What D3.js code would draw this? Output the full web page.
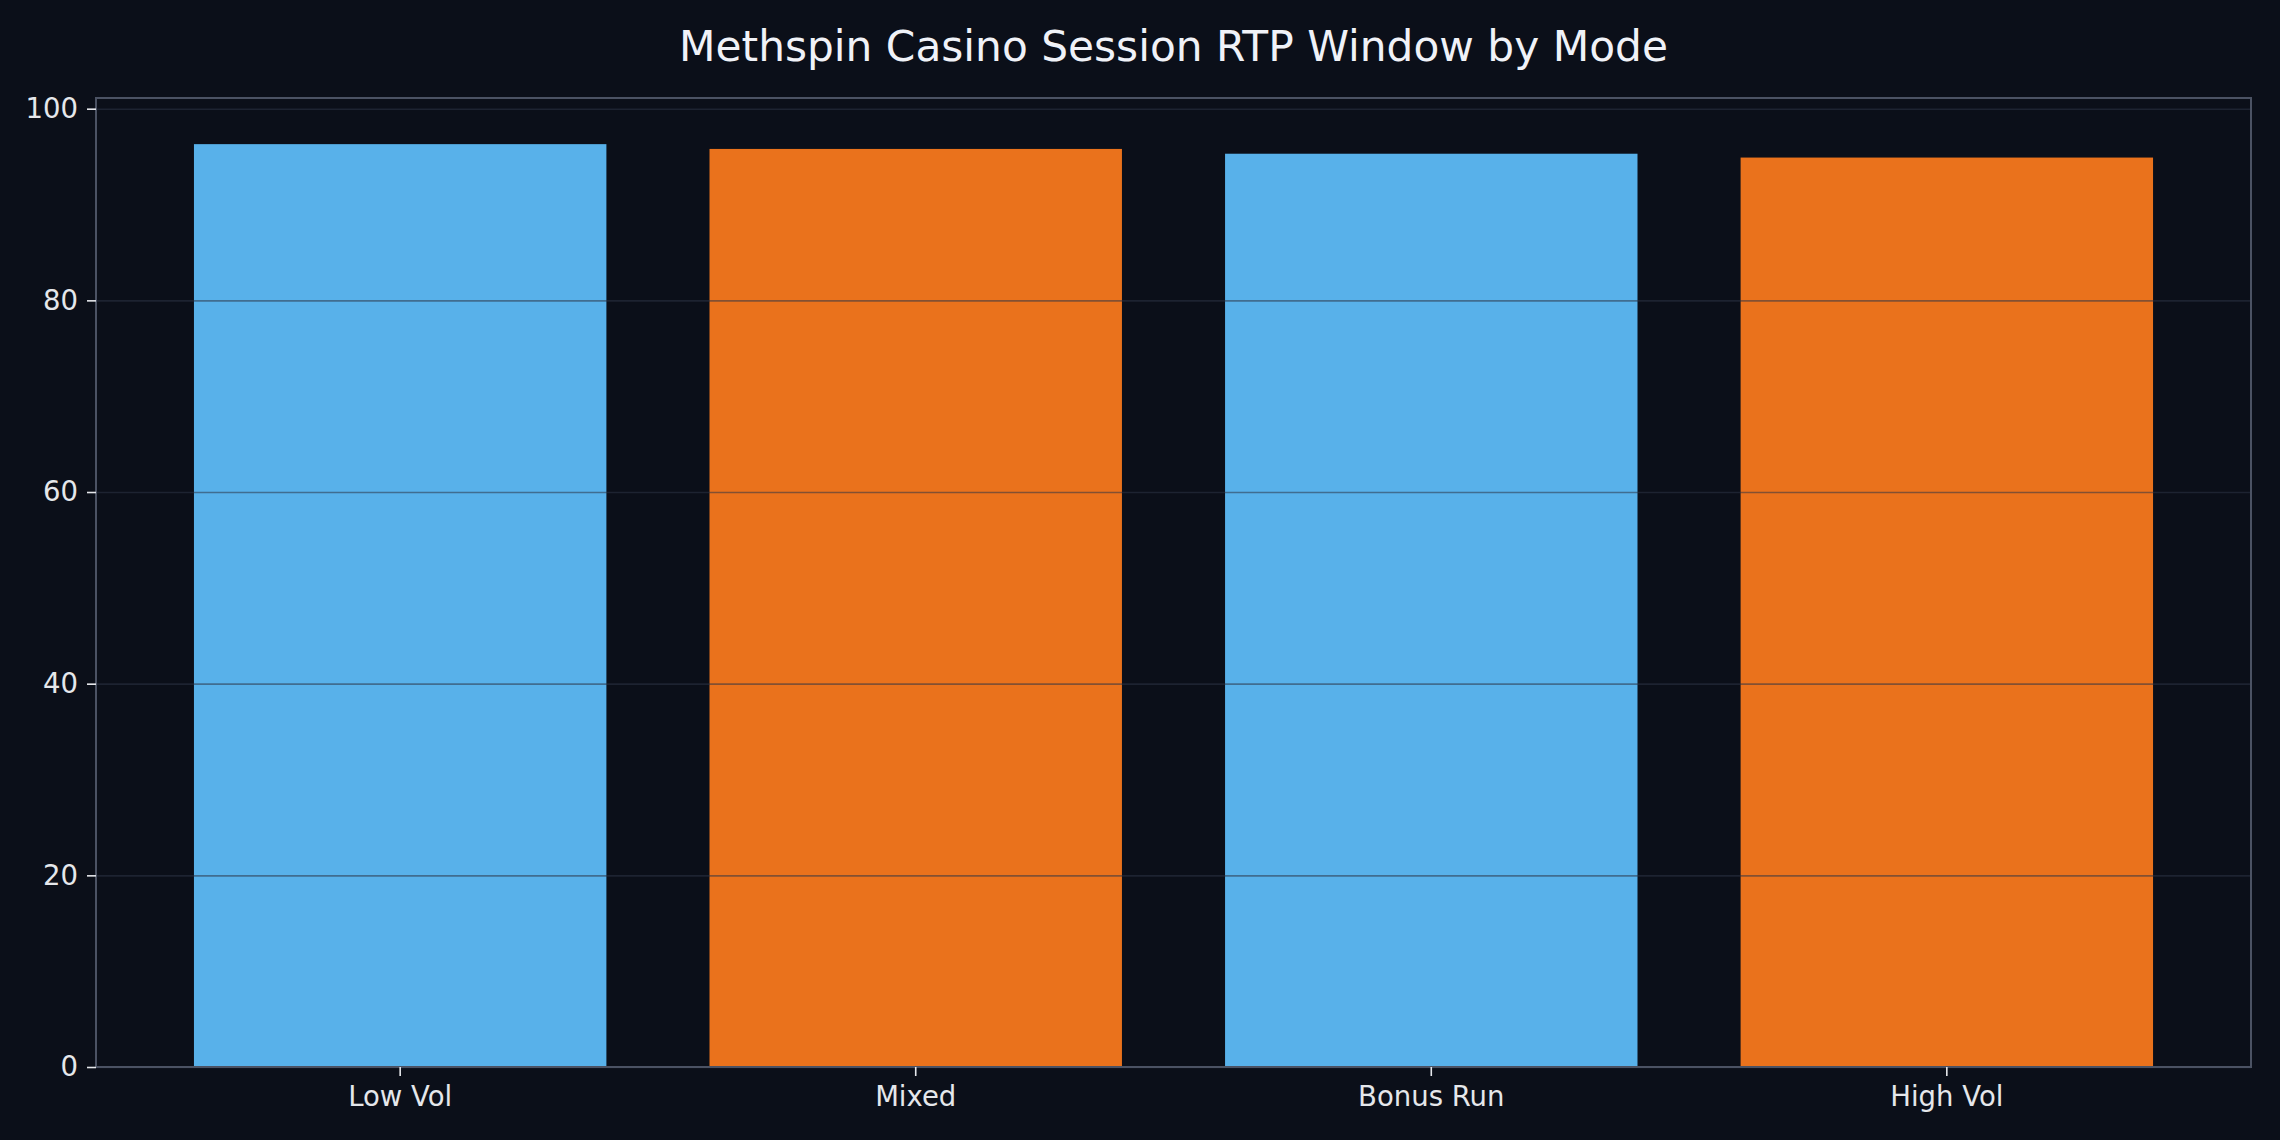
<!DOCTYPE html>
<html>
<head>
<meta charset="utf-8">
<script src="https://cdn.jsdelivr.net/npm/d3@7"></script>
<style>
  html, body { margin: 0; padding: 0; background: #0b0f19; }
  svg { display: block; font-family: "DejaVu Sans", sans-serif; }
</style>
</head>
<body>
<div id="chart"></div>
<script>
const modes = ['Low Vol', 'Mixed', 'Bonus Run', 'High Vol'];
const rtp = [96.3, 95.8, 95.3, 94.9];
const barColors = ['#58b1ea', '#ea721c', '#58b1ea', '#ea721c'];
const yTicks = [0, 20, 40, 60, 80, 100];
const title = 'Methspin Casino Session RTP Window by Mode';

const W = 2280, H = 1140;
const margin = { top: 98, right: 29, bottom: 73, left: 96 };
const width = W - margin.left - margin.right;
const height = H - margin.top - margin.bottom;

const svg = d3.select('#chart')
    .append('svg')
    .attr('width', W)
    .attr('height', H);

svg.append('rect')
    .attr('width', W)
    .attr('height', H)
    .attr('fill', '#0b0f19');

const g = svg.append('g')
    .attr('transform', `translate(${margin.left},${margin.top})`);

const x = d3.scaleBand()
    .domain(modes)
    .range([0, width])
    .paddingInner(0.2)
    .paddingOuter(0.19);

const y = d3.scaleLinear()
    .domain([0, d3.max(rtp) * 1.05])
    .range([height, 0]);

// bars
g.selectAll('.bar')
    .data(modes)
    .enter().append('rect')
    .attr('class', 'bar')
    .attr('x', d => x(d))
    .attr('width', x.bandwidth())
    .attr('y', (d, i) => y(rtp[i]))
    .attr('height', (d, i) => height - y(rtp[i]))
    .attr('fill', (d, i) => barColors[i]);

// grid on top of bars
g.append('g')
    .attr('class', 'grid')
    .call(d3.axisLeft(y).tickValues(yTicks).tickSize(-width).tickFormat(''))
    .call(s => s.select('.domain').remove())
    .selectAll('line')
    .attr('stroke', '#2e3546')
    .attr('stroke-opacity', 0.55)
    .attr('stroke-width', 1.6);

// frame
g.append('rect')
    .attr('width', width)
    .attr('height', height)
    .attr('fill', 'none')
    .attr('stroke', '#4b5263')
    .attr('stroke-width', 2);

// y axis
const yAxis = g.append('g')
    .call(d3.axisLeft(y).tickValues(yTicks).tickSize(9).tickPadding(9));
yAxis.select('.domain').remove();
yAxis.selectAll('line').attr('stroke', '#e5e7eb').attr('stroke-width', 1.6);
yAxis.selectAll('text')
    .attr('fill', '#e5e7eb')
    .style('font-size', '27.5px')
    .style('font-family', '"DejaVu Sans", sans-serif');

// x axis
const xAxis = g.append('g')
    .attr('transform', `translate(0,${height})`)
    .call(d3.axisBottom(x).tickSize(9).tickPadding(10));
xAxis.select('.domain').remove();
xAxis.selectAll('line').attr('stroke', '#e5e7eb').attr('stroke-width', 1.6);
xAxis.selectAll('text')
    .attr('fill', '#e5e7eb')
    .style('font-size', '27.5px')
    .style('font-family', '"DejaVu Sans", sans-serif');

// title
svg.append('text')
    .attr('x', margin.left + width / 2)
    .attr('y', 61)
    .attr('text-anchor', 'middle')
    .attr('fill', '#f0f2f8')
    .style('font-size', '42.3px')
    .text(title);
</script>
</body>
</html>
